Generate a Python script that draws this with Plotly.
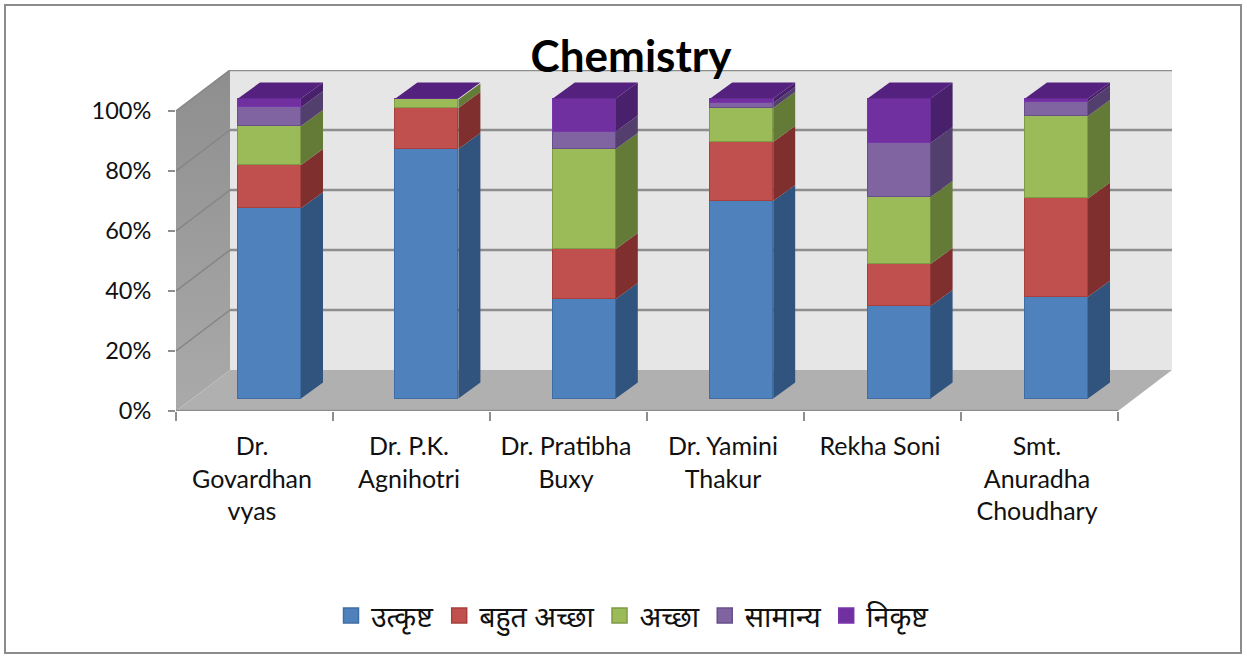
import plotly.graph_objects as go

categories = ["Dr.<br>Govardhan<br>vyas", "Dr. P.K.<br>Agnihotri", "Dr. Pratibha<br>Buxy",
              "Dr. Yamini<br>Thakur", "Rekha Soni", "Smt.<br>Anuradha<br>Choudhary"]
series_names = ["उत्कृष्ट", "बहुत अच्छा", "अच्छा", "सामान्य", "निकृष्ट"]
utkrisht = [63.4, 83.2, 33.2, 65.8, 30.8, 33.9]
bahut_accha = [14.4, 13.6, 16.6, 19.7, 14.0, 32.8]
accha = [13.0, 2.9, 33.4, 11.3, 22.4, 27.5]
samanya = [6.3, 0.0, 5.8, 1.7, 18.0, 4.8]
nikrisht = [2.9, 0.3, 11.0, 1.5, 14.8, 1.0]
series_values = [utkrisht, bahut_accha, accha, samanya, nikrisht]
y_ticks = [0, 20, 40, 60, 80, 100]

front_colors = ["#4f81bd", "#c0504d", "#9bbb59", "#8064a2", "#7030a0"]
edge_colors = ["#3f6da3", "#a5403d", "#7f9b45", "#67508a", "#7a35ad"]
side_colors = ["#31547f", "#7f2f2d", "#647b38", "#533f6e", "#48206c"]
top_color = "#54217f"
FONT = "Lato, 'Noto Sans', sans-serif"
GRID = "#8e8e8e"

W, H = 1247, 656
L, R, T, B = 176, 1173, 70, 411
px_x, px_y = 157.0, 3.0                 # pixels per category / per percent
px_bar = 157.4                          # bar row is nearer the viewer, so slightly wider spaced
x_max, y_max = (R - L) / px_x, (B - T) / px_y
ox, oy = 54 / px_x, 41 / px_y           # chart depth
by = 12.5 / px_y                        # bar row offset inside the depth
dx, dy = 22 / px_bar, 16 / px_y         # bar depth
bar_w = 63 / px_bar
n = len(categories)
xpos = [i + 0.5 for i in range(n)]
label_pos = [p - 2.5 / px_x for p in xpos]
x2_lo = 0.5 - (269.5 - L) / px_bar
x2_hi = x2_lo + (R - L) / px_bar

fig = go.Figure()


def poly(points, color, **kw):
    xs = [p[0] for p in points] + [points[0][0]]
    ys = [p[1] for p in points] + [points[0][1]]
    return go.Scatter(x=xs, y=ys, mode="lines", fill="toself", fillcolor=color,
                      line=dict(width=0), hoverinfo="skip", showlegend=False, **kw)


def seg(xs, ys, color=GRID, width=2.5):
    return go.Scatter(x=xs, y=ys, mode="lines", line=dict(color=color, width=width),
                      hoverinfo="skip", showlegend=False, cliponaxis=False)


# walls and floor
fig.add_trace(poly([(ox, oy), (n + ox, oy), (n + ox, 100 + oy), (ox, 100 + oy)], "#e6e6e6"))
fig.add_trace(poly([(0, 0), (ox, oy), (ox, 100 + oy), (0, 100)], "#989898",
                   fillgradient=dict(type="vertical",
                                     colorscale=[[0, "#aaaaaa"], [1, "#8e8e8e"]])))
fig.add_trace(poly([(0, 0), (n, 0), (n + ox, oy), (ox, oy)], "#b0b0b0"))
for t in y_ticks[1:]:
    fig.add_trace(seg([ox, n + ox], [t + oy, t + oy]))
    fig.add_trace(seg([0, ox], [t, t + oy], "#858585", 1.5))
fig.add_trace(seg([0, n], [0, 0]))

# stacked bars: front faces
for name, vals, fc, ec in zip(series_names, series_values, front_colors, edge_colors):
    fig.add_trace(go.Bar(x=xpos, y=vals, name=name, width=bar_w, xaxis="x2", yaxis="y2",
                         showlegend=False,
                         marker=dict(color=fc, line=dict(color=ec, width=1.5))))

# stacked bars: side and top faces
bases = [0.0] * n
for vals, sc in zip(series_values, side_colors):
    xs, ys = [], []
    for i in range(n):
        xr = xpos[i] + bar_w / 2
        b, t = bases[i], bases[i] + vals[i]
        if vals[i] > 0:
            xs += [xr, xr + dx, xr + dx, xr, xr, None]
            ys += [b, b + dy, t + dy, t, b, None]
        bases[i] = t
    fig.add_trace(go.Scatter(x=xs, y=ys, xaxis="x2", yaxis="y2", mode="lines", fill="toself",
                             fillcolor=sc, line=dict(width=0), hoverinfo="skip", showlegend=False))
xs, ys = [], []
for i in range(n):
    xl, xr = xpos[i] - bar_w / 2, xpos[i] + bar_w / 2
    xs += [xl, xr, xr + dx, xl + dx, xl, None]
    ys += [bases[i], bases[i], bases[i] + dy, bases[i] + dy, bases[i], None]
fig.add_trace(go.Scatter(x=xs, y=ys, xaxis="x2", yaxis="y2", mode="lines", fill="toself",
                         fillcolor=top_color, line=dict(width=0), hoverinfo="skip", showlegend=False))

# legend entries with 16 px square keys
for name, fc, ec in zip(series_names, front_colors, edge_colors):
    fig.add_trace(go.Scatter(x=[None], y=[None], name=name, mode="markers", xaxis="x2", yaxis="y2",
                             marker=dict(symbol="square", size=15, color=fc,
                                         line=dict(color=ec, width=1.5))))

fig.update_layout(
    width=W, height=H, paper_bgcolor="white", plot_bgcolor="rgba(0,0,0,0)",
    margin=dict(l=L, r=W - R, t=T, b=H - B, pad=0),
    barmode="stack", bargap=0,
    font=dict(family=FONT, size=23, color="#111111"),
    title=dict(text="<b>Chemistry</b>", x=631 / W, xanchor="center", y=1 - 57 / H, yanchor="middle",
               font=dict(family=FONT, size=44, color="#000000")),
    xaxis=dict(range=[0, x_max], tickmode="array", tickvals=label_pos, ticktext=categories, ticks="",
               showgrid=False, zeroline=False, showline=False, ticklabelstandoff=18,
               tickfont=dict(size=25),
               minor=dict(tickmode="array", tickvals=list(range(n + 1)), ticks="outside",
                          ticklen=9, tickwidth=2, tickcolor=GRID, showgrid=False)),
    yaxis=dict(range=[0, y_max], tickmode="array", tickvals=y_ticks,
               ticktext=[f"{v}%" for v in y_ticks], ticks="outside", ticklen=7, tickwidth=2,
               tickcolor=GRID, showgrid=False, zeroline=False, showline=False,
               ticklabelstandoff=12, tickfont=dict(size=23.5)),
    xaxis2=dict(range=[x2_lo, x2_hi], overlaying="x", visible=False),
    yaxis2=dict(range=[-by, y_max - by], overlaying="y", visible=False),
    legend=dict(orientation="h", xref="container", yref="container", x=633 / W, xanchor="center",
                y=1 - 616 / H, yanchor="middle", font=dict(size=28.5, family="'Noto Sans', Lato, sans-serif"),
                traceorder="normal", bgcolor="rgba(0,0,0,0)"),
    shapes=[dict(type="rect", xref="paper", yref="paper", layer="below",
                 x0=(5 - L) / (R - L), x1=(1241 - L) / (R - L),
                 y0=(B - 653) / (B - T), y1=(B - 5) / (B - T),
                 line=dict(color="#8c8c8c", width=2), fillcolor="rgba(0,0,0,0)")],
)

fig.write_html("out.html", config={"displayModeBar": False},
               post_script="document.body.style.margin='0';")
